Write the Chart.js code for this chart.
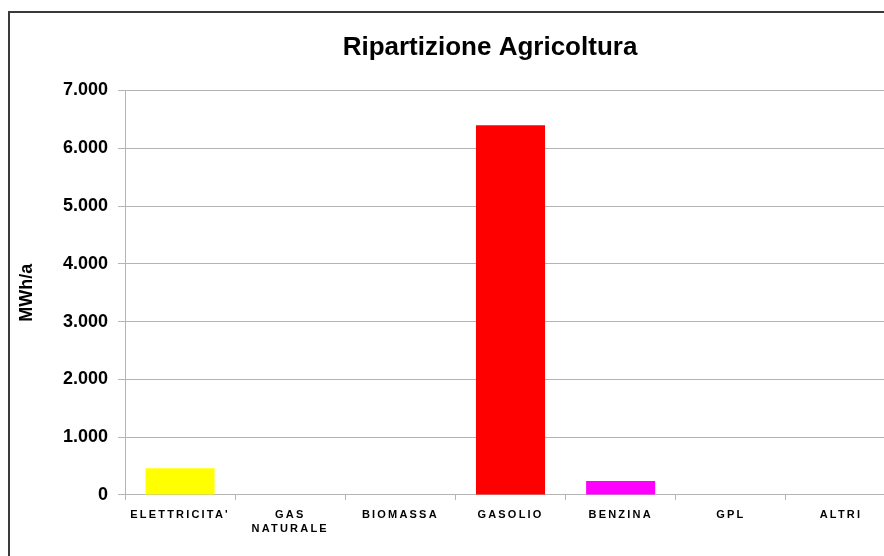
<!DOCTYPE html>
<html>
<head>
<meta charset="utf-8">
<script src="https://cdn.jsdelivr.net/npm/chart.js@4"></script>
<style>
  html, body { margin: 0; padding: 0; background: #fff; overflow: hidden; }
  #frame {
    position: absolute; left: 8px; top: 11px;
    width: 970px; height: 560px;
    border: 2px solid #3a3a3a;
  }
  #wrap { position: absolute; left: 0; top: 0; width: 960px; height: 543px; }
</style>
</head>
<body>
<div id="frame">
  <div id="wrap"><canvas id="myChart"></canvas></div>
</div>
<script>
// categories and values (MWh/a)
const categories = ["ELETTRICITA'", ['GAS', 'NATURALE'], 'BIOMASSA', 'GASOLIO', 'BENZINA', 'GPL', 'ALTRI'];
const consumi = [460, 0, 0, 6400, 240, 0, 0];
const barColors = ['#ffff00', '#00a000', '#996633', '#ff0000', '#ff00ff', '#00ccff', '#999999'];
const yTicks = [0, 1000, 2000, 3000, 4000, 5000, 6000, 7000];

// format 7000 -> "7.000"
function fmt(v) {
    return String(v).replace(/\B(?=(\d{3})+(?!\d))/g, '.');
}

// spaced letters on the category labels
const spacedLabels = {
    id: 'spacedLabels',
    beforeDraw(chart) {
        const sc = chart.scales.x;
        if (sc._spaced) return;
        const orig = sc.drawLabels;
        sc.drawLabels = function(area) {
            const ctx = this.ctx;
            ctx.save();
            ctx.letterSpacing = '2.2px';
            orig.call(this, area);
            ctx.restore();
        };
        sc._spaced = true;
    }
};

var ctx = document.getElementById('myChart').getContext('2d');
var chart = new Chart(ctx, {
    type: 'bar',
    data: {
        labels: categories,
        datasets: [{
            label: 'Ripartizione Agricoltura',
            data: consumi,
            backgroundColor: barColors,
            borderWidth: 0,
            categoryPercentage: 1,
            barPercentage: 0.627
        }]
    },
    options: {
        responsive: true,
        maintainAspectRatio: false,
        animation: false,
        layout: { padding: { left: 0, right: 0, top: 0, bottom: 11.5 } },
        scales: {
            x: {
                grid: { drawOnChartArea: false, drawTicks: true, tickLength: 5, color: '#b4b4b4', offset: true },
                border: { color: '#b4b4b4', width: 1 },
                ticks: {
                    color: '#000',
                    font: { family: 'Liberation Sans', size: 11, weight: 'bold', lineHeight: 1.3 },
                    padding: 8,
                    maxRotation: 0,
                    autoSkip: false
                }
            },
            y: {
                min: 0,
                max: 7000,
                afterFit: function(scale) { scale.width = 115; },
                afterBuildTicks: function(scale) { scale.ticks = yTicks.map(v => ({ value: v })); },
                grid: { color: '#b4b4b4', lineWidth: 1, tickLength: 7 },
                border: { color: '#b4b4b4', width: 1 },
                ticks: {
                    color: '#000',
                    padding: 10,
                    font: { family: 'Liberation Sans', size: 18, weight: 'bold' },
                    callback: function(v) { return fmt(v); }
                },
                title: {
                    display: true,
                    text: 'MWh/a',
                    color: '#000',
                    padding: { top: 6, bottom: 0 },
                    font: { family: 'Liberation Sans', size: 18, weight: 'bold' }
                }
            },
            // empty right-hand space, the plot runs past the window edge
            yRight: {
                position: 'right',
                min: 0,
                max: 7000,
                afterFit: function(scale) { scale.width = 74; },
                grid: { display: false },
                border: { display: false },
                ticks: { display: false }
            }
        },
        plugins: {
            legend: { display: false },
            tooltip: { enabled: false },
            title: {
                display: true,
                text: 'Ripartizione Agricoltura',
                color: '#000',
                padding: { top: 19, bottom: 27.3 },
                font: { family: 'Liberation Sans', size: 26, weight: 'bold' }
            }
        }
    },
    plugins: [spacedLabels]
});
</script>
</body>
</html>
